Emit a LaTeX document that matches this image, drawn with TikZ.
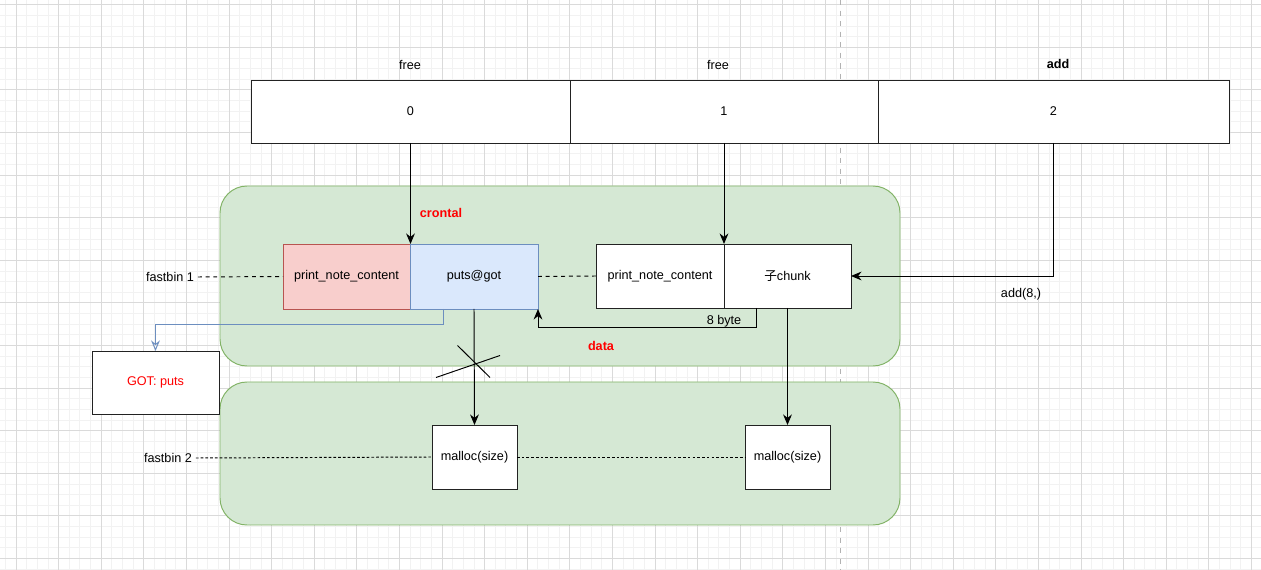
\documentclass[tikz,border=0pt]{standalone}
\usepackage{fontspec}
\setmainfont{Liberation Sans}
\newfontfamily\cjk{Noto Sans CJK SC}
\usetikzlibrary{arrows.meta,calc}
\definecolor{gfill}{HTML}{D5E8D4}
\definecolor{gline}{HTML}{82B366}
\definecolor{rfill}{HTML}{F8CECC}
\definecolor{rline}{HTML}{B85450}
\definecolor{bfill}{HTML}{DAE8FC}
\definecolor{bline}{HTML}{6C8EBF}
\definecolor{gridmaj}{HTML}{DADADA}
\definecolor{gridmin}{HTML}{F2F2F2}
\definecolor{redtxt}{HTML}{FF0000}
\definecolor{edge}{HTML}{222222}
\newcommand{\pxbox}[7]{%
  \node[#6, minimum width={(#4-#2)*0.02cm}, minimum height={(#5-#3)*0.02cm}]
    (#1) at ({(#2+#4)/2},{(#3+#5)/2}) {#7};}
\tikzset{
  every node/.style={font=\fontsize{7.2}{9}\selectfont, inner sep=0pt, outer sep=0pt},
  cell/.style={draw=edge, line width=0.55pt, fill=white},
  grn/.style={draw=gline, fill=gfill, line width=0.55pt, rounded corners=0.54cm},
  redbox/.style={draw=rline, fill=rfill, line width=0.55pt},
  bluebox/.style={draw=bline, fill=bfill, line width=0.55pt},
  arr/.style={draw=black, line width=0.55pt, -{Stealth[length=6pt,width=5pt]}},
  barr/.style={draw=bline, line width=0.55pt, -{Stealth[length=6pt,width=5pt,open]}},
  dsh/.style={draw=black, line width=0.55pt, dash pattern=on 2.2pt off 2.2pt},
  dot/.style={draw=black, line width=0.55pt, dash pattern=on 1.5pt off 1.2pt},
  lbl/.style={text=black},
  rlbl/.style={text=redtxt, font=\fontsize{7.2}{9}\selectfont\bfseries},
}
\begin{document}
\begin{tikzpicture}[x=0.02cm, y=-0.02cm]
\useasboundingbox (0,0) rectangle (1261,570);
\fill[white] (0,0) rectangle (1261,570);
% grid
\foreach \i in {-2,...,118} {
  \draw[gridmin, line width=0.5pt] ({16+\i*10.65},0) -- ({16+\i*10.65},570);
}
\foreach \i in {-1,...,54} {
  \draw[gridmin, line width=0.5pt] (0,{4.7+\i*10.65}) -- (1261,{4.7+\i*10.65});
}
\foreach \i in {0,...,29} {
  \draw[gridmaj, line width=0.5pt] ({16+\i*42.6},0) -- ({16+\i*42.6},570);
}
\foreach \i in {0,...,13} {
  \draw[gridmaj, line width=0.5pt] (0,{4.7+\i*42.6}) -- (1261,{4.7+\i*42.6});
}
\draw[gray!60, line width=0.5pt, dash pattern=on 3pt off 3pt] (840.5,0) -- (840.5,570);

% green areas
\pxbox{g1}{220}{186}{900}{366}{grn}{}
\pxbox{g2}{220}{382}{900}{525}{grn}{}

% top table
\pxbox{t0}{251}{80}{570}{143}{cell}{0}
\pxbox{t1}{570}{80}{878}{143}{cell}{1}
\pxbox{t2}{878}{80}{1229}{143}{cell}{2}
\node[lbl] (f0) at (410,65) {free};
\node[lbl] (f1) at (718,65) {free};
\node[lbl, font=\fontsize{7.2}{9}\selectfont\bfseries] (a2) at (1058,64) {add};

% chunks
\pxbox{pnc1}{283}{244}{410}{309}{redbox}{print\_note\_content}
\pxbox{puts}{410}{244}{538}{309}{bluebox}{puts@got}
\pxbox{pnc2}{596}{244}{724}{308}{cell}{print\_note\_content}
\pxbox{chunk}{724}{244}{851}{308}{cell}{{\cjk 子}chunk}
\pxbox{got}{92}{351}{219}{414}{cell}{\textcolor{redtxt}{GOT: puts}}
\pxbox{m1}{432}{425}{517}{489}{cell}{malloc(size)}
\pxbox{m2}{745}{425}{830}{489}{cell}{malloc(size)}

\node[rlbl] (crontal) at (441,213) {crontal};
\node[rlbl] (data) at (601,346) {data};
\node[lbl] (fb1) at (170,277) {fastbin 1};
\node[lbl] (fb2) at (168,458) {fastbin 2};
\node[lbl] (add8) at (1021,294) {add(8,)};
\node[lbl] (byte8) at (724,321) {8 byte};

% connectors
\draw[arr] (t0.south) -- (t0.south |- pnc1.north);
\draw[arr] (t1.south) -- (t1.south |- chunk.north);
\draw[arr] (t2.south) |- (chunk.east);
\draw[arr] ($(chunk.south west)+(32,0)$) -- ++(0,19) -| (puts.south east);
\draw[barr] ($(puts.south west)+(33,0)$) -- ++(0,15) -| (got.north);
\draw[arr] (puts.south) -- (m1.north);
\draw[arr] (chunk.south) -- (m2.north);
\draw[dsh] ($(fb1.east)+(4,0)$) -- (pnc1.west);
\draw[dsh] (puts.east) -- (pnc2.west);
\draw[dot] ($(fb2.east)+(4,0)$) -- (m1.west);
\draw[dot] (m1.east) -- (m2.west);

% cross
\draw[black, line width=0.55pt] (457.5,345.5) -- (490,377.5);
\draw[black, line width=0.55pt] (500,355.5) -- (436,377.5);
\end{tikzpicture}
\end{document}
